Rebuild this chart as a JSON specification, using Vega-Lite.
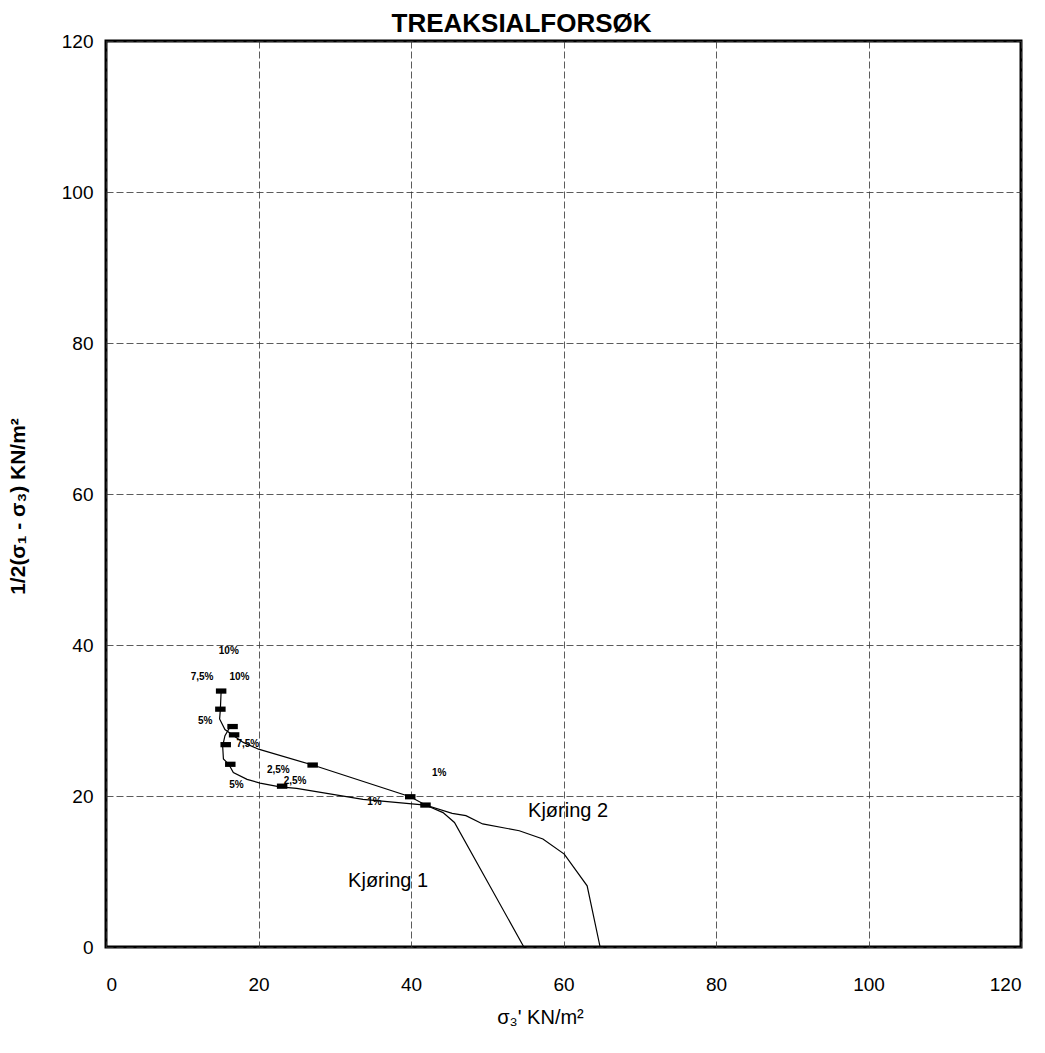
{
  "$schema": "https://vega.github.io/schema/vega-lite/v6.json",
  "autosize": "none",
  "width": 915,
  "height": 906,
  "padding": {"left": 106, "top": 41, "right": 24, "bottom": 106},
  "background": "white",
  "title": {
    "text": "TREAKSIALFORSØK",
    "font": "Liberation Sans",
    "fontSize": 26,
    "fontWeight": "bold",
    "color": "black",
    "anchor": "middle",
    "dx": -42,
    "dy": 9,
    "offset": 4
  },
  "config": {
    "view": {"stroke": "black", "strokeWidth": 3},
    "axis": {
      "labelFont": "Liberation Sans",
      "labelFontSize": 19,
      "labelColor": "black",
      "titleFont": "Liberation Sans",
      "titleColor": "black",
      "domain": false,
      "ticks": false,
      "grid": true,
      "gridColor": "#333",
      "gridWidth": 1,
      "gridDash": [7, 3],
      "gridOpacity": 0.8
    }
  },
  "datasets": {
    "curves": [
      {"run": "Kjøring 2", "i": 1, "x": 15.1, "y": 33.9},
      {"run": "Kjøring 2", "i": 2, "x": 15.0, "y": 31.5},
      {"run": "Kjøring 2", "i": 3, "x": 14.9, "y": 30.2},
      {"run": "Kjøring 2", "i": 4, "x": 15.6, "y": 28.8},
      {"run": "Kjøring 2", "i": 5, "x": 16.7, "y": 28.0},
      {"run": "Kjøring 2", "i": 6, "x": 18.0, "y": 27.1},
      {"run": "Kjøring 2", "i": 7, "x": 20.0, "y": 26.2},
      {"run": "Kjøring 2", "i": 8, "x": 27.1, "y": 24.1},
      {"run": "Kjøring 2", "i": 9, "x": 39.9, "y": 19.9},
      {"run": "Kjøring 2", "i": 10, "x": 41.9, "y": 18.8},
      {"run": "Kjøring 2", "i": 11, "x": 45.4, "y": 17.7},
      {"run": "Kjøring 2", "i": 12, "x": 47.2, "y": 17.4},
      {"run": "Kjøring 2", "i": 13, "x": 49.4, "y": 16.3},
      {"run": "Kjøring 2", "i": 14, "x": 54.2, "y": 15.4},
      {"run": "Kjøring 2", "i": 15, "x": 57.3, "y": 14.3},
      {"run": "Kjøring 2", "i": 16, "x": 60.1, "y": 12.3},
      {"run": "Kjøring 2", "i": 17, "x": 63.1, "y": 8.1},
      {"run": "Kjøring 2", "i": 18, "x": 64.8, "y": 0},
      {"run": "Kjøring 1", "i": 1, "x": 16.3, "y": 29.2},
      {"run": "Kjøring 1", "i": 2, "x": 15.6, "y": 28.0},
      {"run": "Kjøring 1", "i": 3, "x": 15.3, "y": 26.6},
      {"run": "Kjøring 1", "i": 4, "x": 15.4, "y": 24.9},
      {"run": "Kjøring 1", "i": 5, "x": 16.1, "y": 24.2},
      {"run": "Kjøring 1", "i": 6, "x": 16.7, "y": 23.1},
      {"run": "Kjøring 1", "i": 7, "x": 18.5, "y": 22.2},
      {"run": "Kjøring 1", "i": 8, "x": 20.2, "y": 21.7},
      {"run": "Kjøring 1", "i": 9, "x": 22.8, "y": 21.2},
      {"run": "Kjøring 1", "i": 10, "x": 25.0, "y": 21.0},
      {"run": "Kjøring 1", "i": 11, "x": 33.7, "y": 19.55},
      {"run": "Kjøring 1", "i": 12, "x": 41.9, "y": 18.8},
      {"run": "Kjøring 1", "i": 13, "x": 44.2, "y": 17.8},
      {"run": "Kjøring 1", "i": 14, "x": 45.7, "y": 16.5},
      {"run": "Kjøring 1", "i": 15, "x": 54.8, "y": 0}
    ],
    "markers": [
      {"x": 15.1, "y": 33.9},
      {"x": 15.0, "y": 31.5},
      {"x": 16.6, "y": 29.2},
      {"x": 16.8, "y": 28.1},
      {"x": 15.7, "y": 26.8},
      {"x": 16.3, "y": 24.2},
      {"x": 23.1, "y": 21.3},
      {"x": 27.1, "y": 24.1},
      {"x": 39.9, "y": 19.9},
      {"x": 41.9, "y": 18.8}
    ],
    "pct": [
      {"x": 16.1, "y": 39.2, "t": "10%"},
      {"x": 12.6, "y": 35.7, "t": "7,5%"},
      {"x": 17.5, "y": 35.7, "t": "10%"},
      {"x": 13.0, "y": 30.0, "t": "5%"},
      {"x": 18.6, "y": 26.9, "t": "7,5%"},
      {"x": 22.6, "y": 23.4, "t": "2,5%"},
      {"x": 24.8, "y": 22.0, "t": "2,5%"},
      {"x": 17.1, "y": 21.4, "t": "5%"},
      {"x": 43.7, "y": 23.0, "t": "1%"},
      {"x": 35.2, "y": 19.2, "t": "1%"}
    ],
    "runs": [
      {"x": 60.6, "y": 18.0, "t": "Kjøring 2"},
      {"x": 37.0, "y": 8.7, "t": "Kjøring 1"}
    ]
  },
  "encoding": {
    "x": {
      "field": "x",
      "type": "quantitative",
      "scale": {"domain": [0, 120], "nice": false, "zero": false},
      "axis": {
        "values": [0, 20, 40, 60, 80, 100, 120],
        "labelPadding": 28,
        "title": "σ₃'  KN/m²",
        "titleFontSize": 20,
        "titleFontWeight": "normal",
        "titleX": 434,
        "titleY": 70,
        "titleBaseline": "middle",
        "titleAlign": "center"
      }
    },
    "y": {
      "field": "y",
      "type": "quantitative",
      "scale": {"domain": [0, 120], "nice": false, "zero": false},
      "axis": {
        "values": [0, 20, 40, 60, 80, 100, 120],
        "labelPadding": 13,
        "title": "1/2(σ₁ -  σ₃)  KN/m²",
        "titleFontSize": 21,
        "titleFontWeight": "bold",
        "titleAngle": -90,
        "titleX": -88,
        "titleY": 465,
        "titleBaseline": "middle",
        "titleAlign": "center"
      }
    }
  },
  "layer": [
    {
      "data": {"name": "curves"},
      "mark": {"type": "line", "color": "black", "strokeWidth": 1.2},
      "encoding": {
        "detail": {"field": "run", "type": "nominal"},
        "order": {"field": "i", "type": "quantitative"}
      }
    },
    {
      "data": {"name": "markers"},
      "mark": {
        "type": "point",
        "shape": "M-1,-0.5H1V0.5H-1Z",
        "size": 110,
        "filled": true,
        "color": "black",
        "opacity": 1
      }
    },
    {
      "data": {"name": "pct"},
      "mark": {
        "type": "text",
        "font": "Liberation Sans",
        "fontSize": 10,
        "fontWeight": "bold",
        "color": "black",
        "align": "center",
        "baseline": "middle"
      },
      "encoding": {"text": {"field": "t", "type": "nominal"}}
    },
    {
      "data": {"name": "runs"},
      "mark": {
        "type": "text",
        "font": "Liberation Sans",
        "fontSize": 20,
        "color": "black",
        "align": "center",
        "baseline": "middle"
      },
      "encoding": {"text": {"field": "t", "type": "nominal"}}
    }
  ]
}
